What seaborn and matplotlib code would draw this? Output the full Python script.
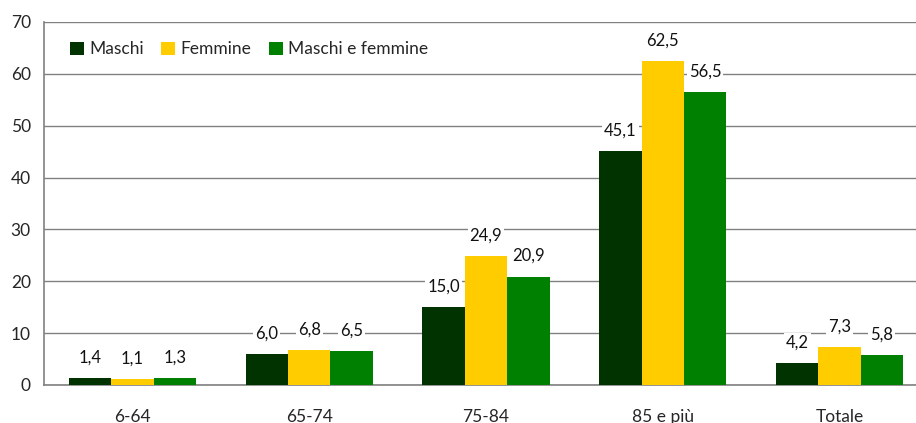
import pandas as pd
import numpy as np
import matplotlib.pyplot as plt
import seaborn as sns

categories = ["6-64", "65-74", "75-84", "85 e più", "Totale"]
series = ["Maschi", "Femmine", "Maschi e femmine"]
maschi = [1.4, 6.0, 15.0, 45.1, 4.2]
femmine = [1.1, 6.8, 24.9, 62.5, 7.3]
maschi_femmine = [1.3, 6.5, 20.9, 56.5, 5.8]
colors = ["#003300", "#ffcc00", "#008000"]

df = pd.DataFrame({
    "classe": categories * 3,
    "serie": [s for s in series for _ in categories],
    "valore": maschi + femmine + maschi_femmine,
})

sns.set_style("white")
plt.rcParams["font.family"] = ["Lato", "DejaVu Sans"]
fs = 12.5

fig = plt.figure(figsize=(9.16, 4.23), dpi=100)
ax = fig.add_axes([0.048, 0.09, 0.965, 0.858])

sns.barplot(data=df, x="classe", y="valore", hue="serie", palette=colors,
            width=0.72, saturation=1, linewidth=0, ax=ax, zorder=3)

for cont in ax.containers:
    labels = [f"{b.get_height():.1f}".replace(".", ",") for b in cont]
    ax.bar_label(cont, labels=labels, padding=9, fontsize=12, color="#111111",
                 bbox=dict(facecolor="white", edgecolor="none", pad=1.5), zorder=4)

ax.set_ylim(0, 70)
ax.set_yticks(range(0, 71, 10))
ax.set_xlim(-0.5, len(categories) - 0.5)
ax.grid(axis="y", color="#808080", linewidth=1, zorder=0)
ax.set_xlabel("")
ax.set_ylabel("")

ax.set_xticks(np.arange(-0.5, len(categories), 1), minor=True)
ax.tick_params(axis="x", which="major", length=0, pad=17, labelsize=fs)
ax.tick_params(axis="x", which="minor", length=6, color="#808080", width=1, direction="out")
ax.tick_params(axis="y", length=6, color="#808080", width=1, direction="out", labelsize=fs)

for s in ["top", "right"]:
    ax.spines[s].set_visible(False)
for s in ["left", "bottom"]:
    ax.spines[s].set_color("#808080")
    ax.spines[s].set_linewidth(1.2)

ax.legend(loc="upper left", ncol=3, frameon=False, fontsize=fs,
          handlelength=0.8, handleheight=0.8, handletextpad=0.3, columnspacing=1.0,
          bbox_to_anchor=(0.012, 0.99))

fig.savefig("out.png", dpi=100)
